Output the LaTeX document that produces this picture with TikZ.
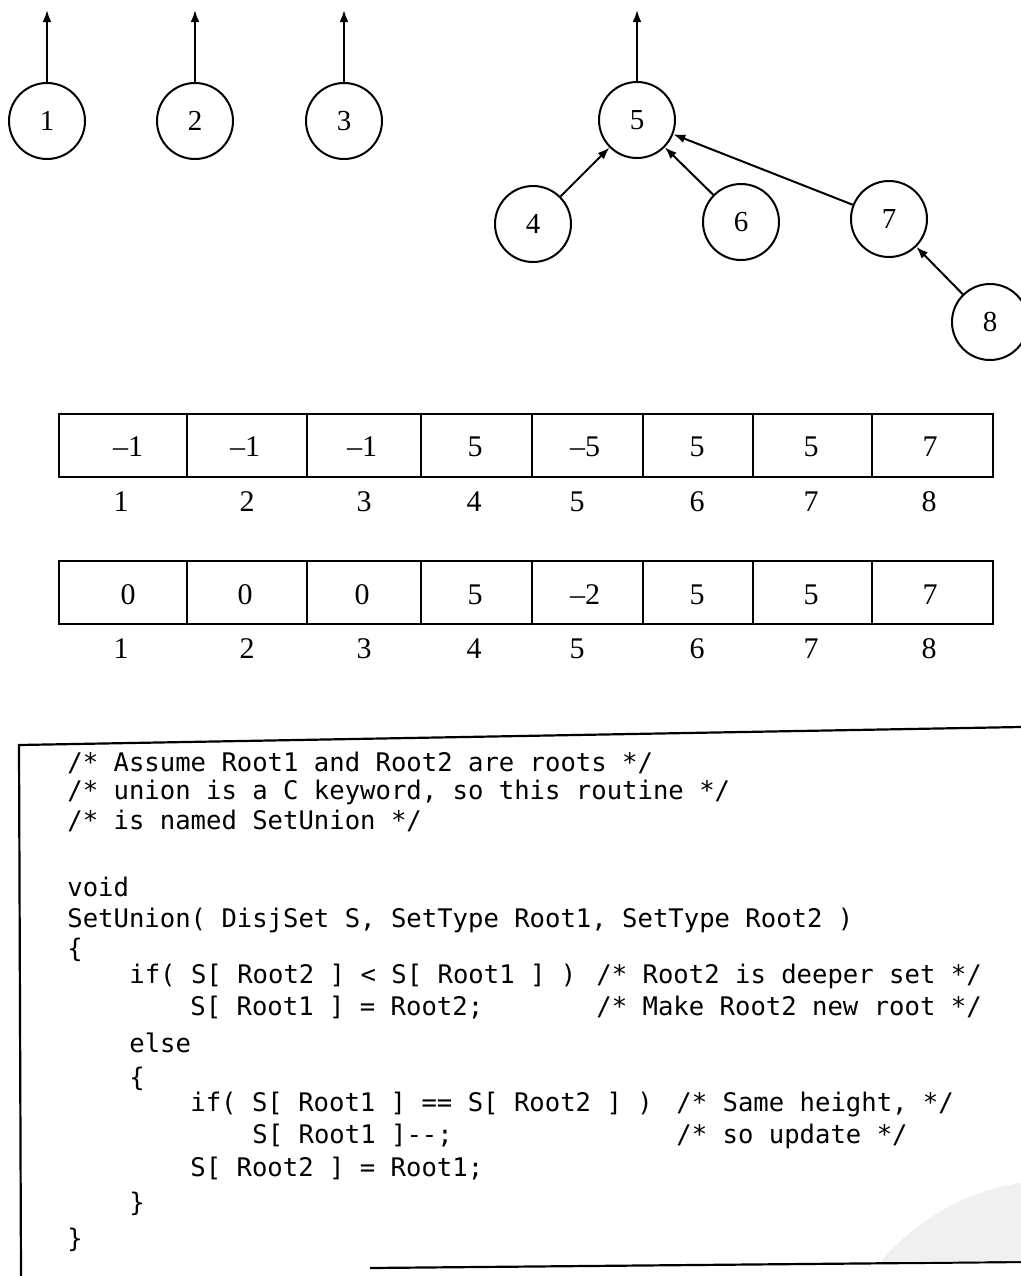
\documentclass[tikz,border=0pt]{standalone}
\usepackage{fontspec}
\setmainfont{Liberation Serif}
\newfontfamily\codefont{DejaVu Sans Mono}
\usetikzlibrary{arrows.meta}

\begin{document}
\begin{tikzpicture}[x=0.5pt,y=-0.5pt,
  vtx/.style={draw,circle,line width=1pt,minimum size=38pt,inner sep=0pt,
    font=\fontsize{14.5}{16}\selectfont},
  ptr/.style={line width=1pt,-{Latex[length=6pt,width=4.4pt]}},
  num/.style={inner sep=0pt,font=\fontsize{15}{17}\selectfont},
  code/.style={anchor=base west,inner sep=0pt,font=\codefont\fontsize{12.8}{15}\selectfont}]
  \useasboundingbox (0,0) rectangle (1021,1276);

  % the forest: three single roots and one tree of height 2
  \node[vtx] (n1) at (47,121) {1};
  \node[vtx] (n2) at (195,121) {2};
  \node[vtx] (n3) at (344,121) {3};
  \node[vtx] (n5) at (637,120) {5};
  \node[vtx] (n4) at (533,224) {4};
  \node[vtx] (n6) at (741,222) {6};
  \node[vtx] (n7) at (889,219) {7};
  \node[vtx] (n8) at (990,322) {8};
  \foreach \r/\x in {1/47,2/195,3/344,5/637} {
    \coordinate (up\r) at (\x,10);
    \draw[ptr] (n\r) -- (up\r);
  }
  \draw[ptr] (n4) -- (n5);
  \draw[ptr] (n6) -- (n5);
  \draw[ptr] (n7) -- (n5);
  \draw[ptr] (n8) -- (n7);

  % the two arrays (-height and height stored)
  \foreach \top in {414,561} {
    \draw[line width=1.1pt] (59,\top) rectangle (993,\top+63);
    \foreach \x in {187,307,421,532,643,753,872}
      \draw[line width=1pt] (\x,\top) -- (\x,\top+63);
  }
  \foreach \i/\x/\v/\w/\lx in {1/128/--1/0/121, 2/245/--1/0/247, 3/362/--1/0/364,
      4/475/5/5/474, 5/585/--5/--2/577, 6/697/5/5/697, 7/811/5/5/811, 8/930/7/7/929} {
    \node[num] (a\i) at (\x,447) {\v};
    \node[num] (ia\i) at (\lx,502) {\i};
    \node[num] (b\i) at (\x,595) {\w};
    \node[num] (ib\i) at (\lx,649) {\i};
  }

  % the code listing
  \draw[line width=1.1pt] (1021,727) -- (19,745) -- (21,1276);
  \draw[line width=1.1pt] (370,1268) -- (1021,1262);
  \fill[gray!12] (880,1262) .. controls (930,1205) and (985,1188) .. (1021,1183)
    -- (1021,1261) -- cycle;

  \node[code] (c1) at (67,771) {/* Assume Root1 and Root2 are roots */};
  \node[code] (c2) at (67,799) {/* union is a C keyword, so this routine */};
  \node[code] (c3) at (67,829) {/* is named SetUnion */};
  \node[code] (c4) at (67,896) {void};
  \node[code] (c5) at (67,927) {SetUnion( DisjSet S, SetType Root1, SetType Root2 )};
  \node[code] (c6) at (67,957) {\{};
  \node[code] (c7) at (129,983) {if( S[ Root2 ] < S[ Root1 ] )};
  \node[code] (m7) at (596,983) {/* Root2 is deeper set */};
  \node[code] (c8) at (190,1015) {S[ Root1 ] = Root2;};
  \node[code] (m8) at (596,1015) {/* Make Root2 new root */};
  \node[code] (c9) at (129,1052) {else};
  \node[code] (c10) at (129,1086) {\{};
  \node[code] (c11) at (190,1111) {if( S[ Root1 ] == S[ Root2 ] )};
  \node[code] (m11) at (676,1111) {/* Same height, */};
  \node[code] (c12) at (252,1143) {S[ Root1 ]-{}-;};
  \node[code] (m12) at (676,1143) {/* so update */};
  \node[code] (c13) at (190,1176) {S[ Root2 ] = Root1;};
  \node[code] (c14) at (129,1211) {\}};
  \node[code] (c15) at (67,1247) {\}};
\end{tikzpicture}
\end{document}
